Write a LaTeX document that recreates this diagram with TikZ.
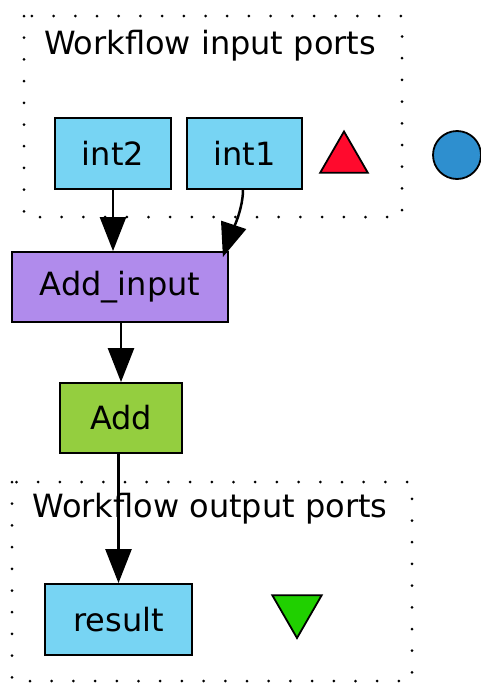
\documentclass[tikz,border=0pt]{standalone}
\usepackage{fontspec}
\setmainfont{DejaVu Sans}
\usetikzlibrary{arrows.meta,shapes.geometric}

\definecolor{portblue}{HTML}{77D4F3}
\definecolor{procpurple}{HTML}{B08BEC}
\definecolor{procgreen}{HTML}{94CE3F}
\definecolor{inred}{HTML}{FF0A2D}
\definecolor{outgreen}{HTML}{20D000}
\definecolor{merblue}{HTML}{2E8FCF}

\begin{document}
\begin{tikzpicture}[x=1pt,y=-1pt,
    labelfont/.style={font=\fontsize{32}{40}\selectfont},
    box/.style={draw,line width=1.8pt,minimum height=71pt,inner sep=0pt,labelfont},
    port/.style={box,fill=portblue},
    cluster/.style={line width=3pt,dash pattern=on 0pt off 21.7pt,line cap=round},
    flow/.style={line width=2.5pt,-{Triangle[length=34pt,width=26pt]}},
    marker/.style={draw,line width=1.8pt,regular polygon,regular polygon sides=3,inner sep=0pt}]
  \useasboundingbox (0,0) rectangle (481,683);

  % input ports
  \draw[cluster] (24,16) rectangle (402,217);
  \node[labelfont,anchor=base] (inlabel) at (210,54) {Workflow input ports};
  \node[port,minimum width=116pt] (int2) at (113,153.5) {int2};
  \node[port,minimum width=115pt] (int1) at (244.5,153.5) {int1};
  \node[marker,fill=inred,minimum size=55pt] (intri) at (344,159) {};
  \node[draw,circle,line width=1.8pt,fill=merblue,minimum size=48pt,inner sep=0pt] (merge) at (457,155) {};

  % processors
  \node[box,fill=procpurple,minimum width=216pt,minimum height=70pt] (addin) at (120,287) {Add\_input};
  \node[box,fill=procgreen,minimum width=122pt,minimum height=70pt] (add) at (121,418) {Add};

  % output ports
  \draw[cluster] (12,482) rectangle (412,681);
  \node[labelfont,anchor=base] (outlabel) at (210,517) {Workflow output ports};
  \node[port,minimum width=147pt] (result) at (118.5,619.5) {result};
  \node[marker,fill=outgreen,minimum size=57pt,shape border rotate=180] (outtri) at (297,609.5) {};

  % links
  \coordinate (addin-in) at ([shift={(-6,6)}]addin.north east);
  \draw[flow] (int2.south) -- (int2.south |- addin.north);
  \draw[flow] ([xshift=-1.5pt]int1.south) .. controls +(0,22) and +(6,-18) .. (addin-in);
  \draw[flow] (addin.south -| add.north) -- (add.north);
  \draw[flow] (add.south -| result.north) -- (result.north);
\end{tikzpicture}
\end{document}
